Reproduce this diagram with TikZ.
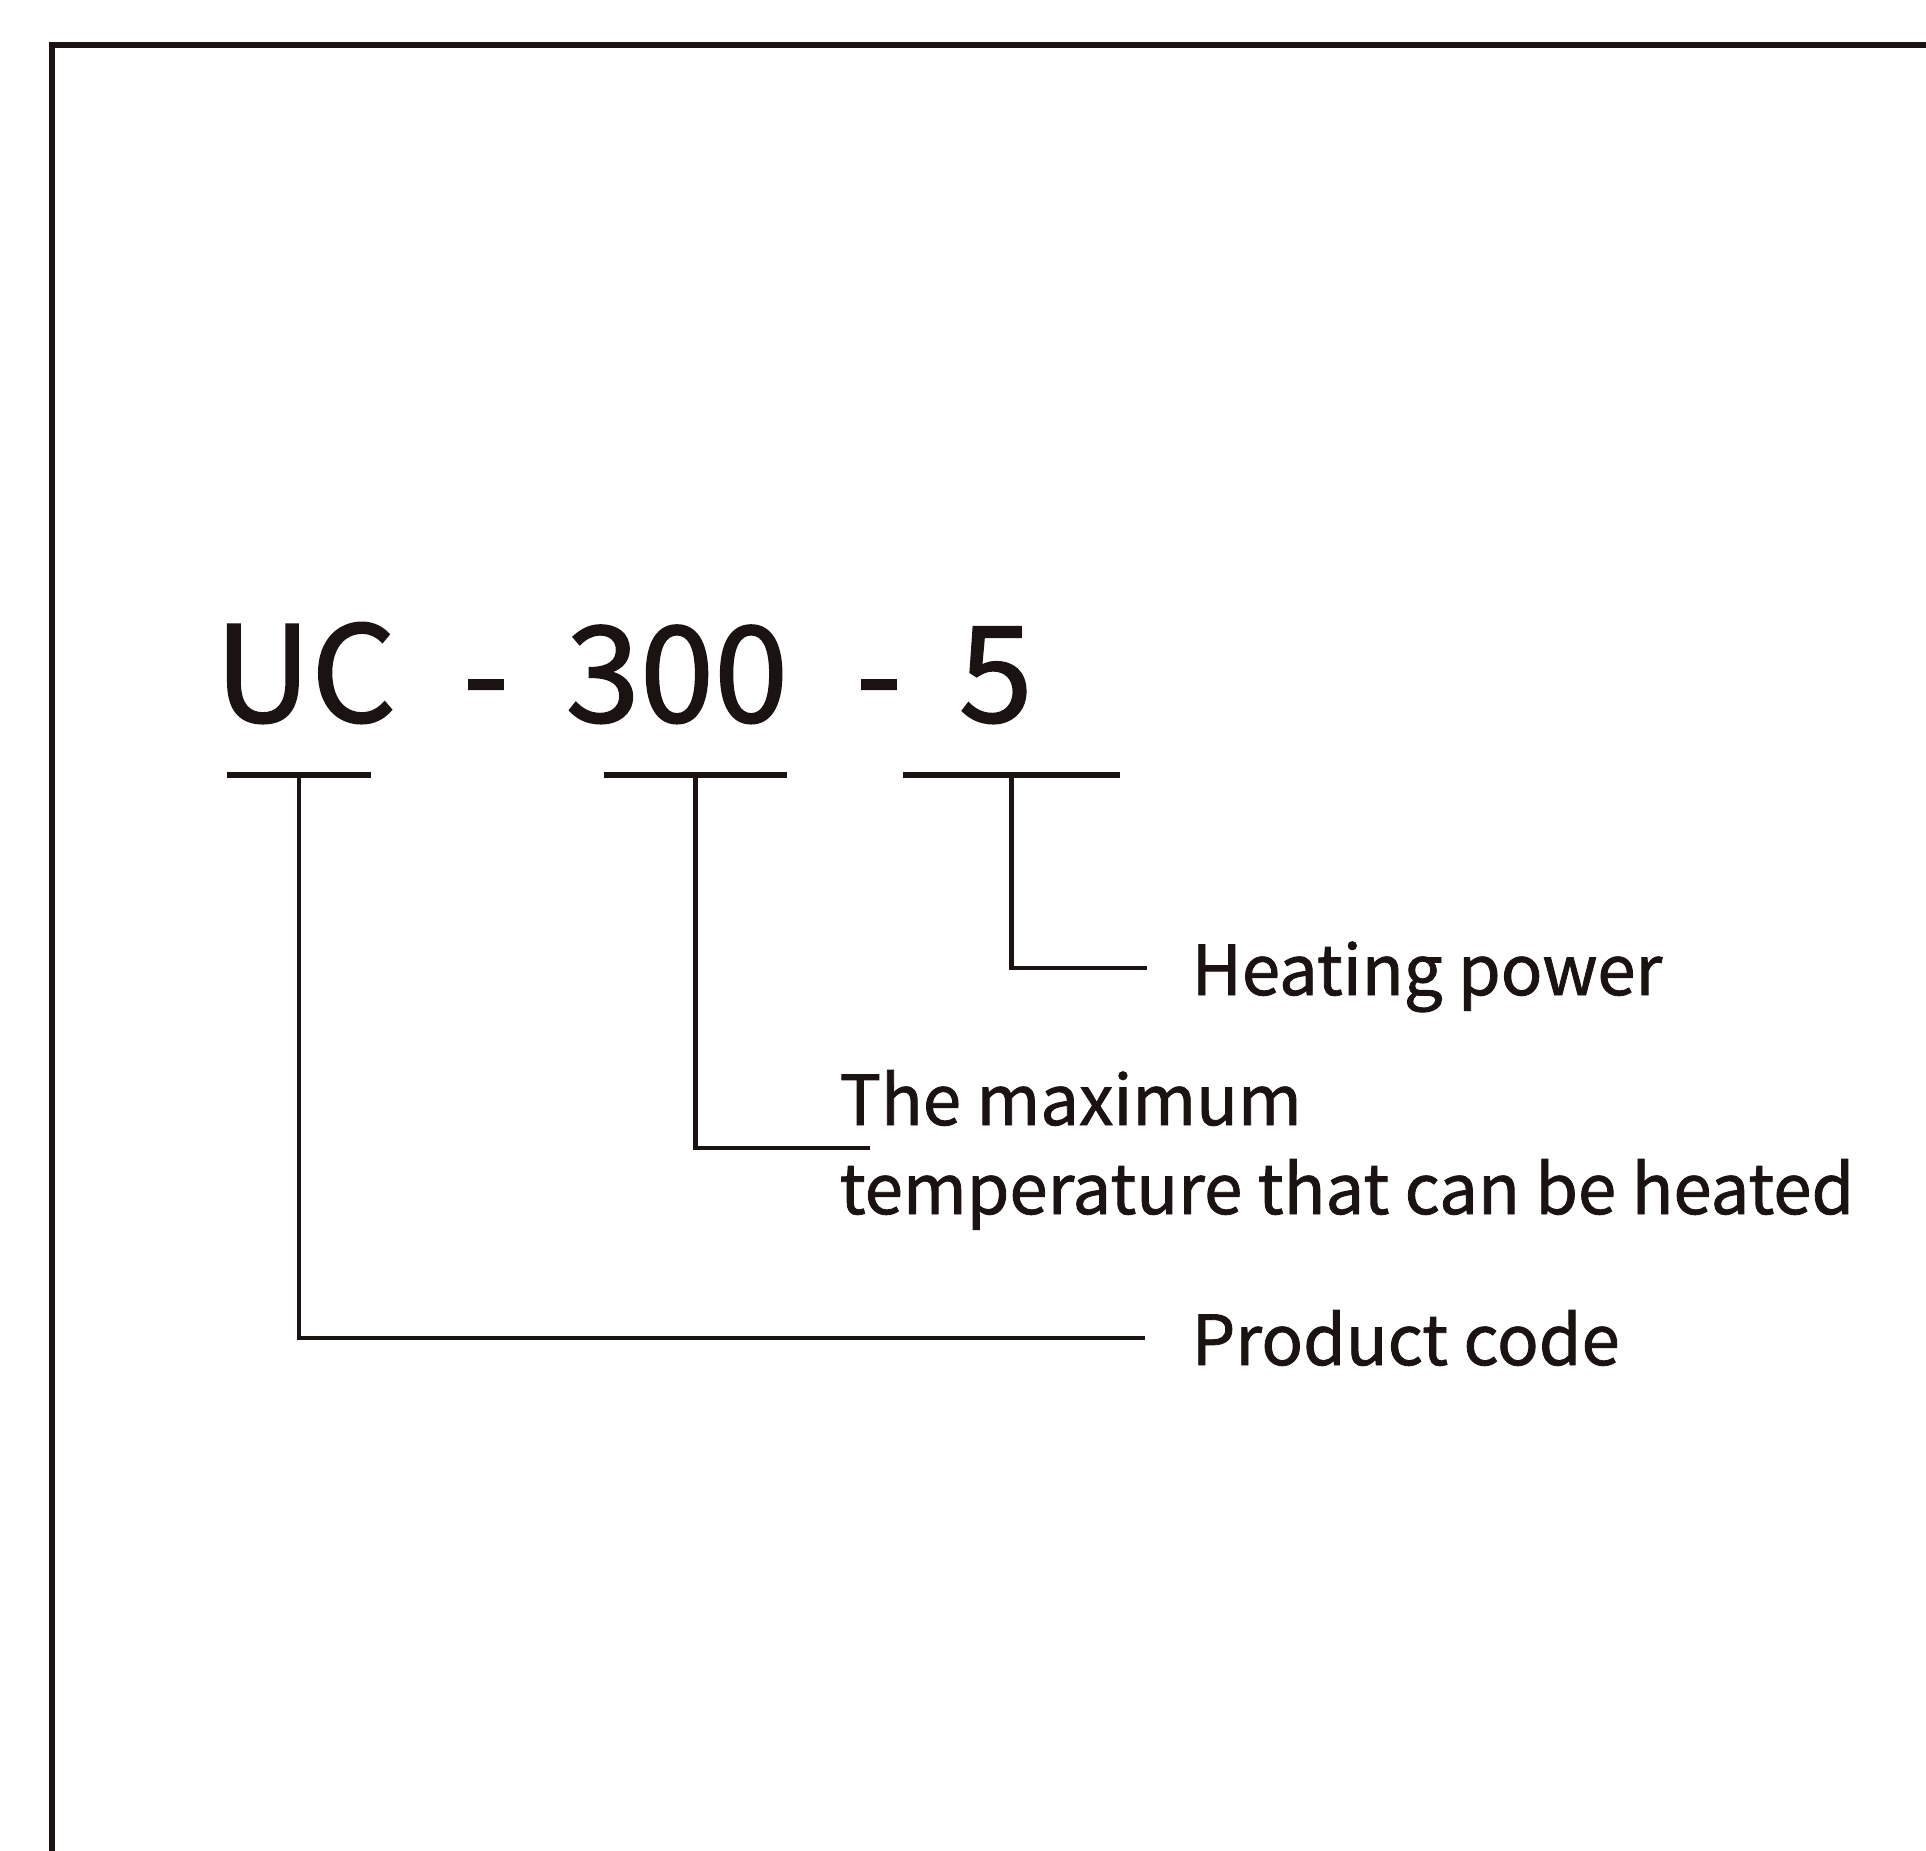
\documentclass[tikz,border=0pt]{standalone}
\usepackage{fontspec}
\setmainfont{Noto Sans CJK SC}[RawFeature={embolden=1.2}]
\usepackage{xcolor}
\usetikzlibrary{positioning,calc}
\definecolor{ink}{HTML}{1A1311}

\begin{document}
\begin{tikzpicture}[x=0.01cm, y=-0.01cm, every node/.style={inner sep=0, anchor=base west, text=ink},
  codepart/.style={font=\fontsize{38}{40}\selectfont},
  partlabel/.style={font=\fontsize{19.6}{24}\selectfont},
  underline/.style={draw=ink, line width=1.6pt},
  leader/.style={draw=ink, line width=1.3pt}]
  \useasboundingbox (0,0) rectangle (1926,1851);
  \clip (0,0) rectangle (1926,1851);
  \fill[white] (0,0) rectangle (1926,1851);

  % outer frame, runs off the right and bottom
  \draw[ink, line width=1.7pt] (52,45) rectangle (2000,1950);

  % model number
  \node[codepart] (uc) at (214,722) {UC};
  \node[codepart] (dashA) at (462,722) {-};
  \node[codepart] (temp) at (565,722) {300};
  \node[codepart] (dashB) at (855,722) {-};
  \node[codepart] (power) at (958,722) {5};

  \coordinate (ucL) at (227,775);
  \coordinate (ucR) at (371,775);
  \coordinate (tempL) at (604,775);
  \coordinate (tempR) at (787,775);
  \coordinate (powerL) at (903,775);
  \coordinate (powerR) at (1120,775);

  \draw[underline] (ucL) -- (ucR);
  \draw[underline] (tempL) -- (tempR);
  \draw[underline] (powerL) -- (powerR);

  % labels
  \node[partlabel] (heat) at (1191,995) {Heating power};
  \node[partlabel] (maxt) at (839,1125) {The maximum};
  \node[partlabel] (maxt2) at (839,1214) {temperature that can be heated};
  \node[partlabel] (prod) at (1191,1365) {Product code};

  \draw[leader] ($(powerL)!0.5!(powerR)$) |- ([xshift=-0.44cm, yshift=0.27cm]heat.base west);
  \draw[leader] ($(tempL)!0.5!(tempR)$) |- ([xshift=0.31cm, yshift=-0.23cm]maxt.base west);
  \draw[leader] ($(ucL)!0.5!(ucR)$) |- ([xshift=-0.46cm, yshift=0.27cm]prod.base west);
\end{tikzpicture}
\end{document}
